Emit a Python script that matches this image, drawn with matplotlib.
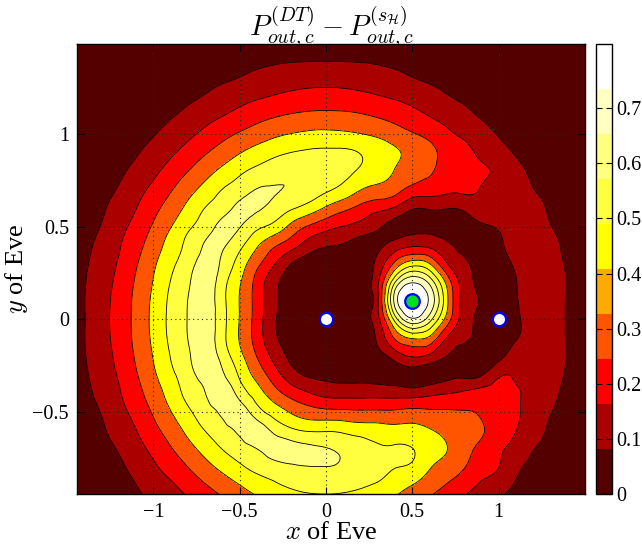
import numpy as np
import matplotlib
matplotlib.use("Agg")
import matplotlib.pyplot as plt
import matplotlib.tri as mtri
from matplotlib.colors import ListedColormap, Normalize
import matplotlib.colorbar as mcolorbar

plt.rcParams['mathtext.fontset'] = 'cm'
plt.rcParams['font.family'] = ['Liberation Serif', 'DejaVu Serif']

# ---- grid coordinates (x left->right, y top->bottom) ----
x_coords = np.round(np.linspace(-1.5, 1.5, 31), 2)
y_coords = np.round(np.linspace(1.5, -1.0, 26), 2)

# ---- field values, one row per y (top to bottom) ----
field_rows = [
 [0.011,0.012,0.012,0.013,0.014,0.015,0.018,0.022,0.026,0.029,0.035,0.042,0.047,0.052,0.054,0.055,0.054,0.052,0.047,0.042,0.035,0.029,0.026,0.022,0.018,0.015,0.014,0.013,0.012,0.012,0.011],
 [0.011,0.012,0.013,0.014,0.016,0.020,0.025,0.030,0.038,0.050,0.060,0.071,0.080,0.086,0.088,0.089,0.088,0.086,0.080,0.071,0.060,0.050,0.038,0.030,0.025,0.020,0.016,0.014,0.013,0.012,0.011],
 [0.012,0.013,0.014,0.017,0.022,0.028,0.035,0.049,0.064,0.080,0.096,0.117,0.133,0.144,0.151,0.153,0.151,0.144,0.133,0.117,0.096,0.080,0.064,0.049,0.035,0.028,0.022,0.017,0.014,0.013,0.012],
 [0.013,0.014,0.017,0.022,0.029,0.039,0.055,0.076,0.099,0.128,0.153,0.175,0.192,0.207,0.217,0.220,0.217,0.207,0.192,0.175,0.153,0.128,0.099,0.076,0.055,0.039,0.029,0.022,0.017,0.014,0.013],
 [0.014,0.016,0.022,0.029,0.041,0.060,0.084,0.117,0.151,0.182,0.214,0.245,0.268,0.286,0.297,0.300,0.297,0.286,0.268,0.245,0.214,0.182,0.151,0.117,0.084,0.060,0.041,0.029,0.022,0.016,0.014],
 [0.015,0.020,0.028,0.039,0.060,0.087,0.126,0.165,0.206,0.249,0.286,0.320,0.351,0.372,0.386,0.391,0.386,0.372,0.351,0.320,0.286,0.249,0.206,0.165,0.126,0.087,0.060,0.039,0.028,0.020,0.015],
 [0.018,0.025,0.035,0.055,0.084,0.126,0.170,0.217,0.268,0.316,0.364,0.405,0.438,0.462,0.476,0.480,0.476,0.457,0.420,0.380,0.345,0.300,0.250,0.217,0.160,0.126,0.084,0.055,0.035,0.025,0.018],
 [0.022,0.030,0.049,0.076,0.117,0.165,0.217,0.275,0.333,0.391,0.443,0.484,0.515,0.537,0.535,0.520,0.485,0.447,0.405,0.364,0.320,0.283,0.250,0.225,0.200,0.165,0.117,0.076,0.049,0.030,0.022],
 [0.026,0.038,0.064,0.099,0.151,0.206,0.268,0.335,0.400,0.462,0.510,0.556,0.556,0.545,0.517,0.475,0.430,0.370,0.340,0.310,0.245,0.230,0.205,0.200,0.178,0.150,0.135,0.095,0.064,0.038,0.026],
 [0.029,0.050,0.080,0.128,0.182,0.249,0.316,0.391,0.462,0.518,0.572,0.566,0.520,0.470,0.420,0.355,0.300,0.250,0.210,0.170,0.100,0.100,0.095,0.110,0.150,0.140,0.140,0.125,0.080,0.050,0.029],
 [0.035,0.060,0.096,0.153,0.214,0.286,0.364,0.443,0.510,0.575,0.556,0.480,0.430,0.340,0.265,0.215,0.180,0.150,0.105,0.060,0.060,0.070,0.050,0.040,0.075,0.100,0.130,0.130,0.095,0.060,0.035],
 [0.042,0.071,0.117,0.175,0.245,0.320,0.405,0.485,0.560,0.565,0.485,0.380,0.290,0.220,0.140,0.100,0.085,0.050,0.070,0.130,0.170,0.160,0.110,0.060,0.035,0.075,0.120,0.130,0.115,0.071,0.042],
 [0.047,0.080,0.133,0.192,0.268,0.351,0.438,0.514,0.585,0.535,0.420,0.300,0.190,0.090,0.050,0.040,0.030,0.040,0.120,0.300,0.420,0.370,0.190,0.110,0.045,0.050,0.105,0.130,0.125,0.080,0.047],
 [0.052,0.087,0.144,0.207,0.286,0.372,0.462,0.537,0.600,0.500,0.377,0.244,0.120,0.050,0.040,0.030,0.030,0.050,0.170,0.550,0.730,0.620,0.340,0.140,0.065,0.030,0.088,0.140,0.135,0.087,0.052],
 [0.054,0.090,0.151,0.217,0.297,0.386,0.476,0.553,0.600,0.490,0.365,0.238,0.113,0.050,0.040,0.030,0.025,0.040,0.170,0.680,0.830,0.720,0.390,0.150,0.085,0.050,0.085,0.130,0.130,0.085,0.054],
 [0.055,0.089,0.153,0.220,0.300,0.391,0.480,0.556,0.600,0.495,0.365,0.235,0.105,0.040,0.030,0.025,0.025,0.050,0.160,0.500,0.720,0.590,0.330,0.140,0.070,0.040,0.075,0.130,0.130,0.085,0.055],
 [0.054,0.090,0.151,0.217,0.297,0.386,0.476,0.553,0.600,0.490,0.362,0.235,0.110,0.050,0.035,0.030,0.025,0.035,0.110,0.290,0.380,0.350,0.180,0.110,0.055,0.040,0.085,0.130,0.130,0.085,0.054],
 [0.052,0.087,0.144,0.207,0.286,0.372,0.462,0.537,0.600,0.520,0.396,0.274,0.157,0.070,0.035,0.030,0.030,0.030,0.060,0.130,0.190,0.160,0.090,0.050,0.035,0.065,0.140,0.150,0.135,0.087,0.052],
 [0.047,0.080,0.133,0.192,0.268,0.351,0.438,0.514,0.588,0.565,0.447,0.336,0.227,0.130,0.080,0.068,0.060,0.060,0.055,0.055,0.050,0.050,0.065,0.070,0.085,0.170,0.175,0.160,0.130,0.080,0.047],
 [0.042,0.071,0.117,0.175,0.245,0.320,0.405,0.485,0.550,0.610,0.518,0.412,0.316,0.240,0.190,0.155,0.150,0.150,0.150,0.145,0.140,0.160,0.180,0.200,0.220,0.210,0.190,0.160,0.115,0.071,0.042],
 [0.035,0.060,0.096,0.153,0.214,0.286,0.364,0.443,0.510,0.572,0.595,0.502,0.420,0.357,0.316,0.300,0.295,0.290,0.290,0.290,0.300,0.290,0.285,0.280,0.265,0.220,0.195,0.140,0.095,0.060,0.035],
 [0.029,0.050,0.080,0.128,0.182,0.249,0.316,0.391,0.462,0.518,0.572,0.598,0.531,0.477,0.450,0.450,0.440,0.420,0.410,0.400,0.400,0.375,0.340,0.310,0.285,0.230,0.185,0.130,0.080,0.050,0.029],
 [0.026,0.038,0.064,0.099,0.151,0.206,0.268,0.335,0.400,0.462,0.510,0.552,0.588,0.585,0.570,0.556,0.535,0.510,0.475,0.470,0.462,0.415,0.370,0.310,0.250,0.200,0.150,0.095,0.064,0.038,0.026],
 [0.022,0.030,0.049,0.076,0.120,0.170,0.217,0.275,0.335,0.391,0.443,0.485,0.515,0.537,0.548,0.550,0.537,0.515,0.495,0.462,0.445,0.375,0.330,0.280,0.220,0.185,0.110,0.076,0.049,0.030,0.022],
 [0.018,0.025,0.035,0.058,0.090,0.135,0.170,0.217,0.268,0.316,0.364,0.410,0.445,0.470,0.485,0.490,0.485,0.470,0.445,0.410,0.364,0.316,0.268,0.217,0.170,0.126,0.084,0.055,0.035,0.025,0.018],
 [0.015,0.020,0.028,0.042,0.065,0.095,0.126,0.165,0.206,0.249,0.286,0.335,0.370,0.400,0.415,0.420,0.415,0.400,0.370,0.335,0.286,0.249,0.206,0.165,0.126,0.087,0.060,0.039,0.028,0.020,0.015],
]

# ---- contour levels, colours (MATLAB hot(10)) ----
contour_levels = [-1.0, 0.092, 0.184, 0.276, 0.368, 0.46, 0.552, 0.644, 0.736, 2.0]
hot10 = [(1/3, 0, 0), (2/3, 0, 0), (1, 0, 0), (1, 1/3, 0), (1, 2/3, 0),
         (1, 1, 0), (1, 1, 0.25), (1, 1, 0.5), (1, 1, 0.75), (1, 1, 1)]
band_colors = [hot10[0], hot10[1], hot10[2], hot10[3], hot10[5],
               hot10[6], hot10[7], hot10[8], hot10[9]]
cbar_max = 0.816
cbar_ticks = [0, 0.1, 0.2, 0.3, 0.4, 0.5, 0.6, 0.7]

# ---- markers ----
user_x = [0.0, 1.0]
user_y = [0.0, 0.0]
eve_x = [0.5]
eve_y = [0.1]

x_ticks = [-1, -0.5, 0, 0.5, 1]
y_ticks = [-0.5, 0, 0.5, 1]

Z = np.array(field_rows)
X, Y = np.meshgrid(x_coords, y_coords)
ny, nx = Z.shape

# regular triangulation of the grid (alternating diagonals), then
# matplotlib's own smooth refinement for rendering
triangles = []
for i in range(ny - 1):
    for j in range(nx - 1):
        a = i * nx + j
        b = a + 1
        c = a + nx
        d = c + 1
        if (i + j) % 2 == 0:
            triangles += [[a, b, d], [a, d, c]]
        else:
            triangles += [[a, b, c], [b, d, c]]
tri = mtri.Triangulation(X.ravel(), Y.ravel(), triangles=np.array(triangles))
interp = mtri.CubicTriInterpolator(tri, Z.ravel(), kind='min_E')
refiner = mtri.UniformTriRefiner(tri)
tri_f, z_f = refiner.refine_field(Z.ravel(), triinterpolator=interp, subdiv=3)

fig = plt.figure(figsize=(6.42, 5.47), dpi=100)
ax = fig.add_axes([0.1204, 0.0963, 0.7908, 0.8233])

ax.tricontourf(tri_f, z_f, levels=contour_levels, colors=band_colors)
ax.tricontour(tri_f, z_f, levels=contour_levels[1:-1], colors='k', linewidths=0.6)

ax.plot(user_x, user_y, 'o', ms=9.5, mfc='white', mec='#0000ff', mew=1.6, zorder=5)
ax.plot(eve_x, eve_y, 'o', ms=10.5, mfc='#00dd22', mec='#0000ff', mew=1.6, zorder=5)

ax.set_xlim(-1.44, 1.5)
ax.set_ylim(-0.946, 1.488)
ax.set_xticks(x_ticks)
ax.set_xticklabels(['\u22121', '\u22120.5', '0', '0.5', '1'])
ax.set_yticks(y_ticks)
ax.set_yticklabels(['\u22120.5', '0', '0.5', '1'])
ax.tick_params(direction='in', top=True, right=True, labelsize=14.5, length=5, width=0.8, pad=6)
ax.grid(True, linestyle=(0, (1, 3)), color='#222222', linewidth=0.8)
ax.set_axisbelow(False)
for gl in ax.get_xgridlines() + ax.get_ygridlines():
    gl.set_zorder(6)
for s in ax.spines.values():
    s.set_linewidth(1.0)
    s.set_zorder(7)

ax.set_xlabel(r'$x$ of Eve', fontsize=19, labelpad=0)
ax.set_ylabel(r'$y$ of Eve', fontsize=19, labelpad=2)
ax.set_title(r'$P^{(DT)}_{out,c} - P^{(s_{\mathcal{H}})}_{out,c}$', fontsize=20.5, pad=6)

cax = fig.add_axes([0.9284, 0.0963, 0.0249, 0.8233])
cb = mcolorbar.ColorbarBase(cax, cmap=ListedColormap(hot10), norm=Normalize(0, cbar_max),
                            ticks=cbar_ticks, orientation='vertical')
cb.ax.set_yticklabels(['0', '0.1', '0.2', '0.3', '0.4', '0.5', '0.6', '0.7'])
cb.ax.tick_params(direction='in', left=True, right=True, labelsize=14.5, length=4, width=0.8, pad=3)
cb.outline.set_linewidth(1.0)

fig.savefig('out.png', dpi=100)
